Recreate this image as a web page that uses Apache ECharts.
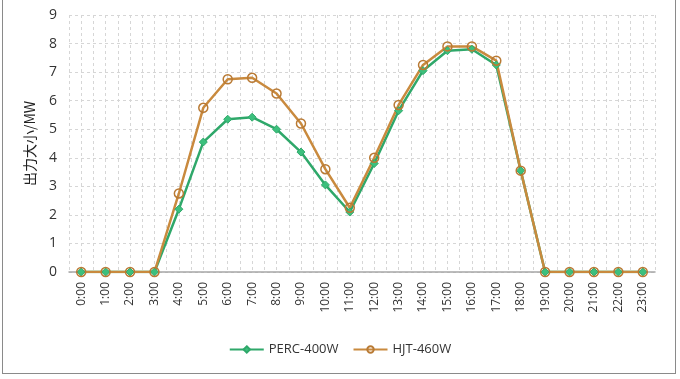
<!DOCTYPE html>
<html><head><meta charset="utf-8">
<script src="https://cdn.jsdelivr.net/npm/echarts@6/dist/echarts.min.js"></script>
<style>
html,body{margin:0;padding:0;background:#fff;}
#c{width:680px;height:379px;position:relative;}
#frame{position:absolute;left:2px;top:0;width:672px;height:373px;border-left:1.5px solid #8a8a8a;border-right:1.5px solid #8a8a8a;border-bottom:1.5px solid #8a8a8a;pointer-events:none;}
</style></head>
<body>
<div id="c"></div>
<div id="frame"></div>
<script>
const categories = ['0:00','1:00','2:00','3:00','4:00','5:00','6:00','7:00','8:00','9:00','10:00','11:00','12:00','13:00','14:00','15:00','16:00','17:00','18:00','19:00','20:00','21:00','22:00','23:00'];
const perc = [0,0,0,0,2.2,4.55,5.35,5.42,5.0,4.2,3.05,2.1,3.8,5.65,7.05,7.75,7.8,7.25,3.55,0,0,0,0,0];
const hjt  = [0,0,0,0,2.75,5.75,6.75,6.8,6.25,5.2,3.6,2.25,4.0,5.85,7.25,7.9,7.9,7.4,3.55,0,0,0,0,0];
const yTicks = [0,1,2,3,4,5,6,7,8,9];
const minorCats = Array.from({length: categories.length*2}, (_, i) => String(i));

const chart = echarts.init(document.getElementById('c'));
const font = 'Open Sans, DejaVu Sans, sans-serif';
chart.setOption({
  animation:false,
  textStyle:{fontFamily:font},
  grid:{left:69,right:25,top:15,bottom:107},
  legend:{
    bottom:18,left:'center',itemWidth:34,itemHeight:8,itemGap:14,
    textStyle:{fontSize:13,color:'#333',fontFamily:font},
    data:['PERC-400W','HJT-460W']
  },
  xAxis:[{
    type:'category',data:categories,boundaryGap:true,
    axisLine:{lineStyle:{color:'#a6a6a6',width:1.5}},
    axisTick:{show:false},
    axisLabel:{rotate:90,fontSize:12,color:'#333',margin:10,interval:0},
    splitLine:{show:false}
  },{
    type:'category',data:minorCats,boundaryGap:true,show:true,position:'bottom',
    axisLine:{show:false},axisTick:{show:false},axisLabel:{show:false},
    splitLine:{show:true,interval:0,lineStyle:{color:'#d6d6d6',type:[3,3],width:1}}
  }],
  yAxis:{
    type:'value',min:0,max:9,interval:1,
    name:'出力大小/MW',nameLocation:'middle',nameGap:32,nameRotate:90,
    nameTextStyle:{fontSize:14,color:'#222',fontFamily:'Noto Sans CJK SC, sans-serif'},
    axisLine:{show:false},axisTick:{show:false},
    axisLabel:{fontSize:14,color:'#333',margin:12,formatter:v=>yTicks.includes(v)?String(v):''},
    splitLine:{show:true,lineStyle:{color:'#d6d6d6',type:[3,3],width:1}}
  },
  series:[{
    name:'PERC-400W',type:'line',data:perc,xAxisIndex:0,
    symbol:'diamond',symbolSize:8,
    lineStyle:{color:'#2fa86a',width:2.5},
    itemStyle:{color:'#3cc07d',borderColor:'#2fa86a',borderWidth:1}
  },{
    name:'HJT-460W',type:'line',data:hjt,xAxisIndex:0,
    symbol:'circle',symbolSize:9,
    lineStyle:{color:'#c98a3e',width:2.5},
    itemStyle:{color:'rgba(255,255,255,0)',borderColor:'#b97a34',borderWidth:1.5}
  }]
});
</script>
</body></html>
